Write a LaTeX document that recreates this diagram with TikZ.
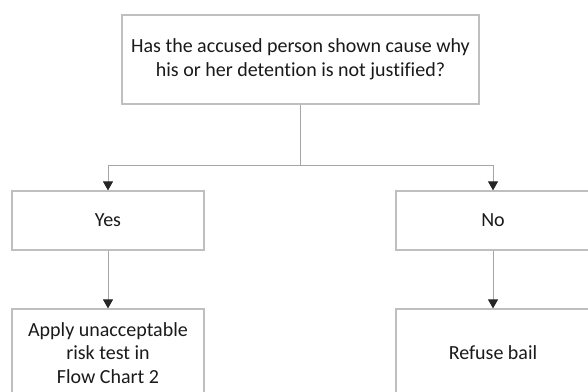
\documentclass[tikz,border=0pt]{standalone}
\usepackage{fontspec}
\setmainfont{Carlito}[Ligatures={NoCommon}]
\usetikzlibrary{arrows.meta}
\definecolor{boxline}{HTML}{BFBFBF}
\definecolor{conn}{HTML}{A6A6A6}
\definecolor{txt}{HTML}{1A1A1A}
\tikzset{
  flowbox/.style={draw=boxline, line width=1.2pt, fill=white, text=txt, align=center,
    inner sep=0pt, font=\fontsize{20}{23.5}\selectfont},
  conline/.style={draw=conn, line width=1pt},
  arr/.style={conline, -{Triangle[width=10pt,length=9pt,color=black!85]}}
}
\begin{document}
\begin{tikzpicture}[x=1pt,y=-1pt]
\useasboundingbox (0,0) rectangle (588,391);
\node[flowbox, minimum width=357pt, minimum height=89pt] (top) at (300.5,59.5)
  {Has the accused person shown cause why\\his or her detention is not justified?};
\node[flowbox, minimum width=192pt, minimum height=59pt] (yes) at (108,220.5) {Yes};
\node[flowbox, minimum width=194pt, minimum height=59pt] (no) at (493,220.5) {No};
\node[flowbox, minimum width=192pt, minimum height=88pt] (apply) at (108,353)
  {Apply unacceptable\\risk test in\\Flow Chart 2};
\node[flowbox, minimum width=194pt, minimum height=88pt] (refuse) at (493,353) {Refuse bail};
\coordinate (j) at (300.5,165);
\draw[conline] (top.south) -- (j);
\draw[arr] (j) -| (yes.north);
\draw[arr] (j) -| (no.north);
\draw[arr] (yes.south) -- (apply.north);
\draw[arr] (no.south) -- (refuse.north);
\end{tikzpicture}
\end{document}
